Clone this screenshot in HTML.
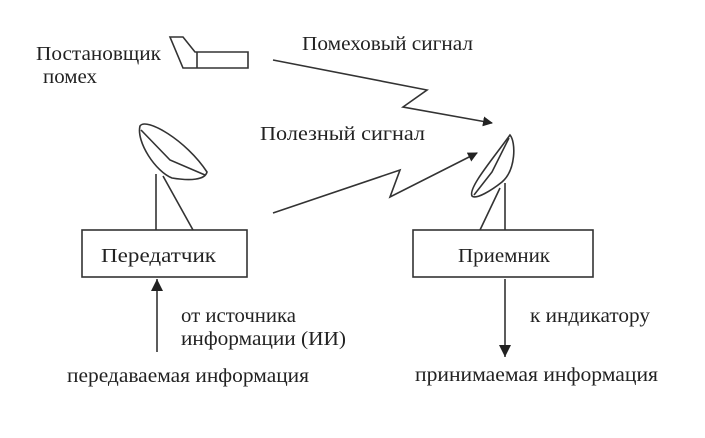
<!DOCTYPE html>
<html><head><meta charset="utf-8"><style>
html,body{margin:0;padding:0;background:#fff;}
svg{display:block;}
text{font-family:"Liberation Serif","DejaVu Serif",serif;font-size:20px;fill:#222;}
</style></head><body>
<svg width="705" height="438" viewBox="0 0 705 438" xmlns="http://www.w3.org/2000/svg">
<defs>
<marker id="ah" markerWidth="10" markerHeight="10" refX="9" refY="5" orient="auto" markerUnits="userSpaceOnUse">
<path d="M0,0 L10,5 L0,10 Z" fill="#222"/></marker>
<marker id="av" markerWidth="12" markerHeight="14" refX="12" refY="6" orient="auto" markerUnits="userSpaceOnUse">
<path d="M0,0 L12,6 L0,12 Z" fill="#222"/></marker>
</defs>
<g stroke="#333" stroke-width="1.6" fill="none">
<path d="M170,37 L183,37 L195,52 L248,52 L248,68 L183,68 Z"/>
<line x1="197" y1="52" x2="197" y2="68"/>
<polyline points="273,60 427,90 403,107 492,123" marker-end="url(#ah)"/>
<polyline points="273,213 400,170 390,197 477,153" marker-end="url(#ah)"/>
<path d="M140,126 C146,117 186,140 207,172 C205,180 190,181 172,178 C156,172 136,142 140,126 Z"/>
<path d="M141,130 L170,160 L205,175"/>
<line x1="156" y1="174" x2="156" y2="230"/>
<line x1="163" y1="176" x2="193" y2="230"/>
<path d="M510,135 C516,142 516,170 502,182 C492,190 476,200 472,196 C468,188 492,160 510,135 Z"/>
<path d="M509,138 L492,172 L474,195"/>
<line x1="505" y1="183" x2="505" y2="230"/>
<line x1="500" y1="188" x2="480" y2="230"/>
<rect x="82" y="230" width="165" height="47"/>
<rect x="413" y="230" width="180" height="47"/>
<line x1="157" y1="352" x2="157" y2="279" marker-end="url(#av)"/>
<line x1="505" y1="279" x2="505" y2="357" marker-end="url(#av)"/>
</g>
<text x="36" y="60" textLength="125" lengthAdjust="spacingAndGlyphs">Постановщик</text>
<text x="43" y="83" textLength="54" lengthAdjust="spacingAndGlyphs">помех</text>
<text x="302" y="50" textLength="171" lengthAdjust="spacingAndGlyphs">Помеховый сигнал</text>
<text x="260" y="140" textLength="165" lengthAdjust="spacingAndGlyphs">Полезный сигнал</text>
<text x="101" y="262" textLength="115" lengthAdjust="spacingAndGlyphs">Передатчик</text>
<text x="458" y="262" textLength="92" lengthAdjust="spacingAndGlyphs">Приемник</text>
<text x="181" y="322" textLength="115" lengthAdjust="spacingAndGlyphs">от источника</text>
<text x="181" y="345" textLength="165" lengthAdjust="spacingAndGlyphs">информации (ИИ)</text>
<text x="67" y="382" textLength="242" lengthAdjust="spacingAndGlyphs">передаваемая информация</text>
<text x="530" y="322" textLength="120" lengthAdjust="spacingAndGlyphs">к индикатору</text>
<text x="415" y="381" textLength="243" lengthAdjust="spacingAndGlyphs">принимаемая информация</text>
</svg>
</body></html>
